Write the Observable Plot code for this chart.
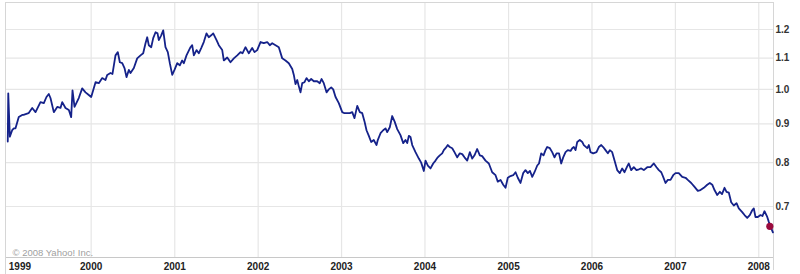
<!DOCTYPE html>
<html><head><meta charset="utf-8">
<script src="https://cdn.jsdelivr.net/npm/d3@7"></script>
<script src="https://cdn.jsdelivr.net/npm/@observablehq/plot@0.6"></script>
<style>
html,body{margin:0;padding:0;background:#fff;}
#chart svg{display:block;background:linear-gradient(#ececec,#ececec) no-repeat 0 0 / 5px 257px, #ffffff;}
</style></head><body><div id="chart"></div>
<script>
// time of each reading, in years since 1 Jan 1999
const yearsSince1999 = [
0.000,0.006,0.025,0.053,0.073,0.093,0.132,0.173,0.189,0.249,
0.293,0.333,0.392,0.432,0.464,0.492,0.512,0.552,0.593,0.632,
0.653,0.692,0.732,0.760,0.776,0.800,0.851,0.892,0.932,0.971,
1.000,1.052,1.091,1.132,1.171,1.192,1.231,1.255,1.291,1.319,
1.343,1.372,1.399,1.423,1.451,1.471,1.511,1.551,1.591,1.623,
1.651,1.671,1.690,1.719,1.743,1.771,1.795,1.810,1.839,1.863,
1.890,1.918,1.942,1.971,1.998,2.031,2.062,2.090,2.110,2.142,
2.190,2.210,2.230,2.262,2.289,2.318,2.349,2.382,2.409,2.438,
2.462,2.502,2.529,2.570,2.589,2.630,2.669,2.709,2.750,2.789,
2.813,2.849,2.889,2.929,2.957,2.989,3.029,3.068,3.109,3.140,
3.169,3.209,3.248,3.289,3.328,3.368,3.409,3.428,3.448,3.469,
3.484,3.508,3.529,3.556,3.580,3.608,3.636,3.668,3.708,3.739,
3.760,3.787,3.820,3.847,3.876,3.900,3.928,3.967,4.008,4.035,
4.059,4.099,4.128,4.155,4.188,4.219,4.248,4.275,4.299,4.327,
4.355,4.386,4.419,4.434,4.467,4.499,4.527,4.547,4.578,4.607,
4.635,4.667,4.706,4.739,4.766,4.787,4.806,4.826,4.847,4.886,
4.926,4.954,4.986,5.006,5.034,5.066,5.098,5.126,5.153,5.177,
5.206,5.225,5.246,5.273,5.297,5.326,5.353,5.386,5.417,5.446,
5.473,5.506,5.537,5.566,5.593,5.625,5.657,5.685,5.725,5.765,
5.805,5.845,5.872,5.905,5.937,5.965,5.992,6.025,6.057,6.085,
6.112,6.144,6.177,6.204,6.232,6.258,6.285,6.312,6.345,6.366,
6.392,6.420,6.444,6.464,6.496,6.524,6.552,6.576,6.606,6.632,
6.656,6.684,6.711,6.744,6.764,6.783,6.804,6.824,6.855,6.884,
6.903,6.944,6.963,6.983,7.016,7.055,7.083,7.112,7.135,7.163,
7.191,7.215,7.243,7.271,7.303,7.334,7.363,7.391,7.423,7.442,
7.471,7.502,7.534,7.564,7.591,7.622,7.663,7.702,7.742,7.774,
7.802,7.831,7.854,7.882,7.910,7.942,7.974,8.002,8.041,8.082,
8.122,8.149,8.190,8.230,8.269,8.301,8.341,8.382,8.413,8.442,
8.469,8.502,8.533,8.559,8.589,8.613,8.641,8.669,8.700,8.733,
8.760,8.801,8.829,8.861,8.892,8.921,8.940,8.960,8.988,9.020,
9.044,9.068,9.101,9.120,9.140,9.169
];
// exchange rate read at each time
const rate = [
0.853,0.988,0.866,0.883,0.888,0.888,0.919,0.925,0.925,0.930,
0.945,0.933,0.962,0.959,0.977,0.986,0.974,0.933,0.948,0.945,
0.962,0.945,0.939,0.919,0.997,0.948,0.974,1.003,0.991,0.983,
0.977,1.022,1.019,1.035,1.029,1.045,1.051,1.048,1.109,1.120,
1.086,1.083,1.067,1.038,1.061,1.051,1.067,1.099,1.109,1.116,
1.151,1.172,1.144,1.137,1.169,1.190,1.186,1.162,1.179,1.197,
1.137,1.120,1.083,1.045,1.061,1.083,1.076,1.092,1.083,1.109,
1.137,1.144,1.109,1.127,1.116,1.134,1.155,1.186,1.172,1.179,
1.186,1.162,1.144,1.127,1.092,1.102,1.086,1.099,1.109,1.120,
1.116,1.137,1.116,1.134,1.120,1.127,1.155,1.151,1.155,1.144,
1.151,1.144,1.137,1.099,1.092,1.083,1.064,1.045,1.016,1.029,
1.013,0.991,1.019,1.022,1.035,1.025,1.032,1.025,1.025,1.019,
1.032,1.019,0.991,1.000,1.006,1.000,0.977,0.959,0.933,0.930,
0.930,0.930,0.933,0.916,0.951,0.933,0.930,0.907,0.883,0.868,
0.852,0.857,0.844,0.857,0.875,0.883,0.888,0.878,0.891,0.922,
0.907,0.886,0.870,0.849,0.857,0.849,0.868,0.865,0.844,0.826,
0.810,0.800,0.780,0.805,0.793,0.786,0.798,0.805,0.813,0.818,
0.823,0.831,0.836,0.844,0.839,0.836,0.826,0.813,0.823,0.821,
0.813,0.805,0.826,0.810,0.818,0.834,0.818,0.816,0.805,0.798,
0.777,0.770,0.755,0.759,0.748,0.741,0.764,0.768,0.770,0.777,
0.764,0.752,0.775,0.782,0.775,0.780,0.766,0.777,0.793,0.798,
0.823,0.818,0.831,0.839,0.836,0.826,0.813,0.823,0.823,0.798,
0.813,0.826,0.831,0.829,0.836,0.839,0.831,0.852,0.857,0.852,
0.844,0.836,0.844,0.826,0.823,0.826,0.839,0.844,0.839,0.831,
0.823,0.831,0.826,0.805,0.782,0.775,0.786,0.777,0.791,0.798,
0.782,0.789,0.782,0.784,0.786,0.782,0.789,0.789,0.798,0.789,
0.782,0.777,0.766,0.752,0.759,0.759,0.770,0.775,0.775,0.766,
0.764,0.759,0.752,0.743,0.734,0.736,0.741,0.748,0.752,0.748,
0.736,0.725,0.732,0.727,0.741,0.732,0.730,0.709,0.702,0.707,
0.696,0.688,0.682,0.676,0.682,0.692,0.696,0.678,0.678,0.682,
0.680,0.690,0.678,0.668,0.659,0.647
];
const markerYears = [9.132];
const markerRate = [0.659];
const yearTicks = [1999,2000,2001,2002,2003,2004,2005,2006,2007,2008];
const rateTicks = [0.7,0.8,0.9,1.0,1.1,1.2];
const copyrightText = ["\u00a9 2008 Yahoo! Inc."];

const YEAR_MS = 365.2425 * 864e5;
const BASE = Date.UTC(1999, 0, 1);
const toDate = t => new Date(BASE + t * YEAR_MS);
const series = yearsSince1999.map((t, i) => ({date: toDate(t), rate: rate[i]}));
const marker = markerYears.map((t, i) => ({date: toDate(t), rate: markerRate[i]}));
const yearDates = yearTicks.map(y => new Date(Date.UTC(y, 0, 1)));
const xDomain = [toDate(-0.027), toDate(9.176)];
const yDomain = [0.5993, 1.3028];

const grid = "#e6e6e6";
const yearLabel = d => String(d.getUTCFullYear());
const chart = Plot.plot({
  width: 800,
  height: 274,
  marginTop: 2,
  marginBottom: 17,
  marginLeft: 5,
  marginRight: 27,
  style: {fontFamily: "'Liberation Sans', Arial, sans-serif", fontSize: "10px", fontWeight: "bold", color: "#333", background: "transparent"},
  x: {type: "utc", domain: xDomain, axis: null},
  y: {type: "log", domain: yDomain, axis: null},
  marks: [
    Plot.gridY(rateTicks, {stroke: grid, strokeOpacity: 1, strokeWidth: 1.2}),
    Plot.gridX(yearDates.slice(1), {stroke: grid, strokeOpacity: 1, strokeWidth: 1.2}),
    Plot.frame({stroke: "#d6d6d6"}),
    Plot.ruleY([yDomain[0]], {stroke: "#c8c8c8"}),
    Plot.ruleX([xDomain[1]], {stroke: "#d6d6d6", insetBottom: -13}),
    Plot.ruleX([xDomain[0]], {stroke: "#d6d6d6", insetBottom: -17}),
    Plot.line(series, {x: "date", y: "rate", stroke: "#15228a", strokeWidth: 1.8, curve: "linear"}),
    Plot.dot(marker, {x: "date", y: "rate", r: 3.6, fill: "#9a0b3e", stroke: "none"}),
    Plot.axisY(rateTicks, {anchor: "right", label: null, tickSize: 0, tickPadding: 2, tickFormat: d3.format(".1f"), fill: "#333", fontWeight: "bold"}),
    Plot.text(yearDates.slice(0, 1), {x: d => d, frameAnchor: "bottom", text: yearLabel, textAnchor: "start", lineAnchor: "top", dx: 1, dy: 5.3, fill: "#222"}),
    Plot.text(yearDates.slice(1), {x: d => d, frameAnchor: "bottom", text: yearLabel, textAnchor: "middle", lineAnchor: "top", dy: 5.3, fill: "#222"}),
    Plot.text(copyrightText, {frameAnchor: "bottom-left", text: d => d, textAnchor: "start", lineAnchor: "bottom", dx: 7, dy: -2, fill: "#a0a0a0", fontWeight: "normal", fontSize: 9.5})
  ]
});
document.getElementById("chart").append(chart);
</script>
</body></html>
